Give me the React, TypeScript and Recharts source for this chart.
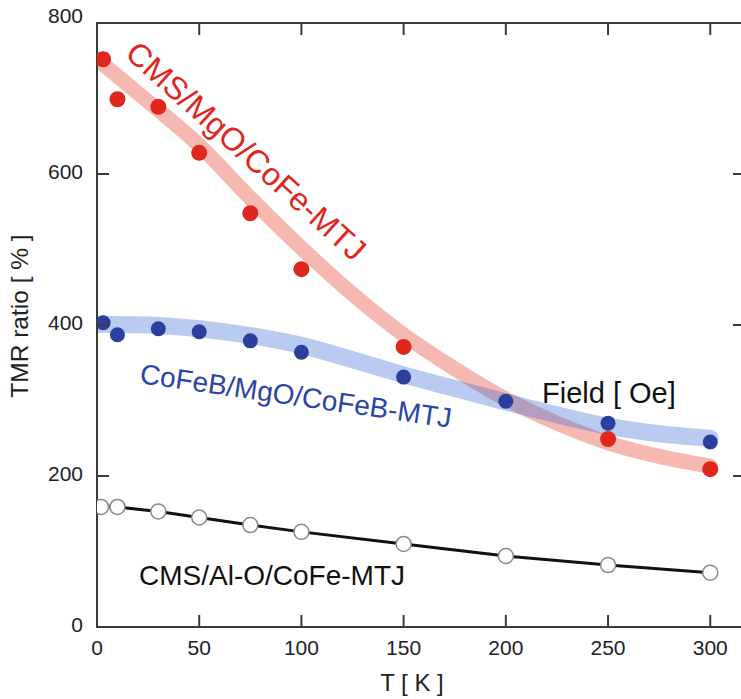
import React from 'react';
import { ComposedChart, Line, XAxis, YAxis, ReferenceArea } from 'recharts';

const FONT = '"Liberation Sans", Arial, Helvetica, sans-serif';

const xTicks = [0, 50, 100, 150, 200, 250, 300];
const yTicks = [0, 200, 400, 600, 800];

// CMS/MgO/CoFe-MTJ (red dots)
const cmsMgoT = [3, 10, 30, 50, 75, 100, 150, 250, 300];
const cmsMgoTmr = [752, 699, 689, 628, 548, 474, 371, 249, 209];
// CoFeB/MgO/CoFeB-MTJ (blue dots)
const cofebT = [3, 10, 30, 50, 75, 100, 150, 200, 250, 300];
const cofebTmr = [403, 387, 395, 391, 379, 364, 331, 299, 270, 245];
// CMS/Al-O/CoFe-MTJ (open circles)
const cmsAloT = [2, 10, 30, 50, 75, 100, 150, 200, 250, 300];
const cmsAloTmr = [159, 159, 153, 145, 135, 126, 110, 94, 82, 72];
// guide-to-eye bands
const fitT = [0, 25, 50, 75, 100, 125, 150, 175, 200, 225, 250, 275, 300];
const cmsMgoFit = [752, 696, 638, 568, 502, 441, 387, 342, 302, 270, 244, 226, 213];
const cofebFit = [401, 400, 395, 386, 373, 354, 334, 316, 298, 281, 266, 256, 250];

const toPts = (xs: number[], ys: number[]) => xs.map((t, i) => ({ t, v: ys[i] }));

const AXIS = '#3a3a3a';
const TICK = 12;
const CHART_W = 760;
const CHART_H = 699;
const M = { top: 23, right: 15, bottom: 32, left: 0 };
const X_AXIS_H = 40;
const Y_AXIS_W = 97;
const PLOT_TOP = M.top;
const PLOT_BOTTOM = CHART_H - M.bottom - X_AXIS_H;
const PLOT_LEFT = M.left + Y_AXIS_W;
const PLOT_RIGHT = CHART_W - M.right;

const BottomTick = (p: any) => (
  <g>
    <line x1={p.x} x2={p.x} y1={PLOT_BOTTOM} y2={PLOT_BOTTOM - TICK} stroke={AXIS} strokeWidth={2} />
    <line x1={p.x} x2={p.x} y1={PLOT_TOP} y2={PLOT_TOP + TICK} stroke={AXIS} strokeWidth={2} />
    <text x={p.x} y={PLOT_BOTTOM + 20} dy="0.36em" textAnchor="middle" fontSize={21} fill="#222" fontFamily={FONT}>
      {p.payload.value}
    </text>
  </g>
);

const LeftTick = (p: any) => (
  <g>
    <line x1={PLOT_LEFT} x2={PLOT_LEFT + TICK} y1={p.y} y2={p.y} stroke={AXIS} strokeWidth={2} />
    <line x1={PLOT_RIGHT} x2={PLOT_RIGHT - TICK} y1={p.y} y2={p.y} stroke={AXIS} strokeWidth={2} />
    <text
      x={PLOT_LEFT - 14}
      y={p.y - (p.payload.value === 800 ? 8 : 3)}
      dy="0.36em"
      textAnchor="end"
      fontSize={21}
      fill="#222"
      fontFamily={FONT}
    >
      {p.payload.value}
    </text>
  </g>
);

export default function App() {
  return (
    <div style={{ position: 'absolute', left: 0, top: 0, width: 741, height: 699, overflow: 'hidden', background: '#fff' }}>
      <ComposedChart width={CHART_W} height={CHART_H} margin={M}>
        <XAxis
          type="number"
          dataKey="t"
          domain={[0, 317]}
          allowDataOverflow
          ticks={xTicks}
          height={X_AXIS_H}
          tickSize={0}
          tickMargin={0}
          tickLine={false}
          axisLine={{ stroke: AXIS, strokeWidth: 2 }}
          tick={BottomTick}
        />
        <YAxis
          type="number"
          domain={[0, 800]}
          allowDataOverflow
          ticks={yTicks}
          width={Y_AXIS_W}
          tickSize={0}
          tickMargin={0}
          tickLine={false}
          axisLine={{ stroke: AXIS, strokeWidth: 2 }}
          tick={LeftTick}
        />
        <ReferenceArea x1={0} x2={317} y1={0} y2={800} fill="none" fillOpacity={0} stroke={AXIS} strokeWidth={2} ifOverflow="visible" />
        <Line
          data={toPts(fitT, cmsMgoFit)}
          dataKey="v"
          type="monotone"
          stroke="#e8503f"
          strokeOpacity={0.4}
          strokeWidth={15}
          strokeLinecap="round"
          dot={false}
          activeDot={false}
          isAnimationActive={false}
        />
        <Line
          data={toPts(fitT, cofebFit)}
          dataKey="v"
          type="monotone"
          stroke="#3d6fd6"
          strokeOpacity={0.36}
          strokeWidth={17}
          strokeLinecap="round"
          dot={false}
          activeDot={false}
          isAnimationActive={false}
        />
        <Line
          data={toPts(cmsAloT, cmsAloTmr)}
          dataKey="v"
          type="linear"
          stroke="#111"
          strokeWidth={3}
          dot={{ r: 7.5, fill: '#fff', stroke: '#8a8a8a', strokeWidth: 1.5 }}
          activeDot={false}
          isAnimationActive={false}
        />
        <Line
          data={toPts(cmsMgoT, cmsMgoTmr)}
          dataKey="v"
          stroke="none"
          dot={{ r: 8, fill: '#e0271d', stroke: 'none' }}
          activeDot={false}
          isAnimationActive={false}
        />
        <Line
          data={toPts(cofebT, cofebTmr)}
          dataKey="v"
          stroke="none"
          dot={{ r: 7.5, fill: '#2b3f9e', stroke: 'none' }}
          activeDot={false}
          isAnimationActive={false}
        />
      </ComposedChart>
      <svg width={741} height={699} style={{ position: 'absolute', left: 0, top: 0, pointerEvents: 'none' }} fontFamily={FONT}>
        <text x={19} y={316} fontSize={24.5} fill="#222" textAnchor="middle" dominantBaseline="central" transform="rotate(-90 19 316)">
          TMR ratio [ % ]
        </text>
        <text x={412} y={682} fontSize={24} fill="#222" textAnchor="middle" dominantBaseline="central">
          T [ K ]
        </text>
        <text x={246} y={151} fontSize={32} fill="#e0251b" textAnchor="middle" dominantBaseline="central" transform="rotate(42 246 151)">
          CMS/MgO/CoFe-MTJ
        </text>
        <text x={296} y={396} fontSize={28} fill="#2a44a8" textAnchor="middle" dominantBaseline="central" transform="rotate(8.2 296 396)">
          CoFeB/MgO/CoFeB-MTJ
        </text>
        <text x={542} y={393} fontSize={29} fill="#111" dominantBaseline="central">
          Field [ Oe]
        </text>
        <text x={139} y={575} fontSize={28} fill="#111" dominantBaseline="central">
          CMS/Al-O/CoFe-MTJ
        </text>
      </svg>
    </div>
  );
}
